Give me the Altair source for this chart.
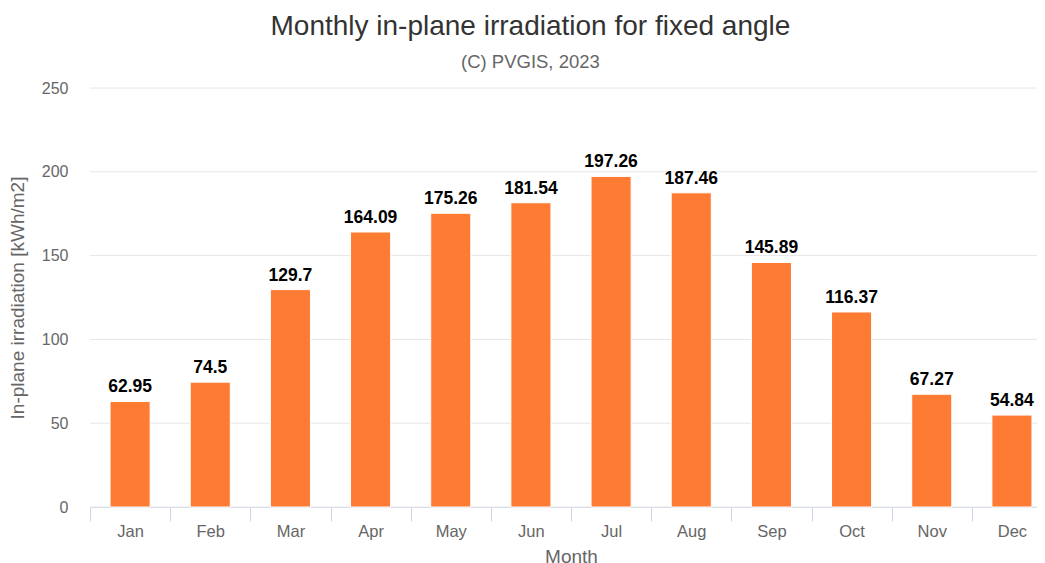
import altair as alt
import pandas as pd

months = ["Jan", "Feb", "Mar", "Apr", "May", "Jun", "Jul", "Aug", "Sep", "Oct", "Nov", "Dec"]
values = [62.95, 74.5, 129.7, 164.09, 175.26, 181.54, 197.26, 187.46, 145.89, 116.37, 67.27, 54.84]
y_ticks = [0, 50, 100, 150, 200, 250]

df = pd.DataFrame({"Month": months, "Value": values, "Label": [str(v) for v in values]})
grid_df = pd.DataFrame({"Value": y_ticks})

FONT = "Liberation Sans"

x_enc = alt.X(
    "Month:N", sort=months, title="Month",
    scale=alt.Scale(paddingInner=0, paddingOuter=0, range=[0, 962]),
    axis=alt.Axis(
        labelAngle=0, labelFontSize=16.5, labelColor="#666666", labelFont=FONT, labelPadding=2,
        titleFontSize=19, titleColor="#666666", titleFont=FONT, titleFontWeight="normal", titlePadding=8,
        titleX=481,
        domainColor="#ccd6eb", tickColor="#ccd6eb", tickSize=14, tickBand="extent", grid=False,
    ),
)
y_scale = alt.Scale(domain=[0, 250], nice=False)
y_enc = alt.Y(
    "Value:Q", title="In-plane irradiation [kWh/m2]",
    scale=y_scale,
    axis=alt.Axis(
        values=y_ticks, labelFontSize=16, labelColor="#666666", labelFont=FONT, labelPadding=22,
        ticks=False, domain=False, grid=False,
        titleFontSize=19, titleColor="#666666", titleFont=FONT, titleFontWeight="normal", titlePadding=14,
    ),
)

grid = alt.Chart(grid_df).mark_rule(color="#e6e6e6", strokeWidth=1).encode(
    y=alt.Y("Value:Q", scale=y_scale), x=alt.value(0), x2=alt.value(962)
)
bars = alt.Chart(df).mark_bar(
    color="#fe7b34", stroke="#ffffff", strokeWidth=1, width=alt.RelativeBandSize(0.5)
).encode(x=x_enc, y=y_enc)
labels = alt.Chart(df).mark_text(
    dy=-5, fontSize=17.5, fontWeight="bold", color="#000000", font=FONT, baseline="bottom"
).encode(x=alt.X("Month:N", sort=months), y="Value:Q", text="Label:N")

chart = (
    alt.layer(grid, bars, labels)
    .properties(
        width=947, height=419,
        autosize=alt.AutoSizeParams(type="none"),
        padding={"left": 82, "top": 80, "right": 0, "bottom": 60},
        title=alt.Title(
            "Monthly in-plane irradiation for fixed angle",
            subtitle="(C) PVGIS, 2023",
            fontSize=28, font=FONT, fontWeight="normal", color="#333333",
            subtitleFontSize=18.5, subtitleFont=FONT, subtitleColor="#666666", subtitlePadding=12,
            anchor="middle", frame="bounds", offset=9,
        ),
    )
    .configure_view(stroke=None)
)

chart.save("out.html", embed_options={"renderer": "svg", "actions": False})
